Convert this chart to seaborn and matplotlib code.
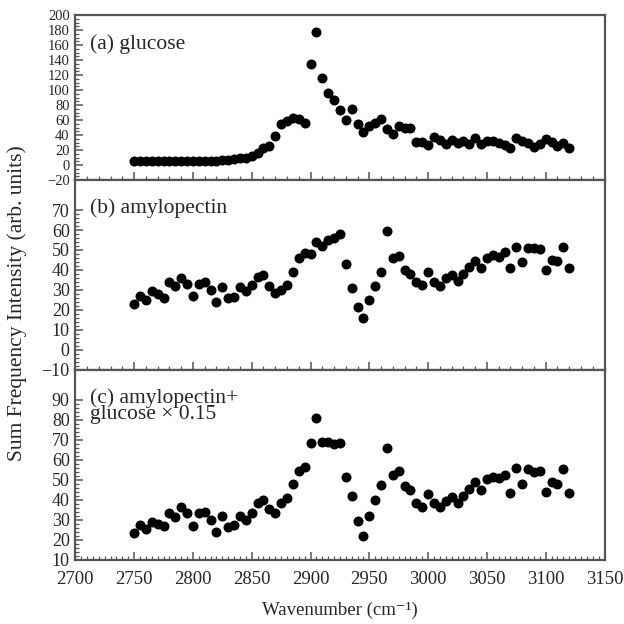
import matplotlib
matplotlib.use("Agg")
import matplotlib.pyplot as plt
from matplotlib.ticker import MultipleLocator, FixedLocator
import numpy as np
import pandas as pd
import seaborn as sns

# wavenumber grid (cm-1)
wavenumber = [2750, 2755, 2760, 2765, 2770, 2775, 2780, 2785, 2790, 2795,
              2800, 2805, 2810, 2815, 2820, 2825, 2830, 2835, 2840, 2845,
              2850, 2855, 2860, 2865, 2870, 2875, 2880, 2885, 2890, 2895,
              2900, 2905, 2910, 2915, 2920, 2925, 2930, 2935, 2940, 2945,
              2950, 2955, 2960, 2965, 2970, 2975, 2980, 2985, 2990, 2995,
              3000, 3005, 3010, 3015, 3020, 3025, 3030, 3035, 3040, 3045,
              3050, 3055, 3060, 3065, 3070, 3075, 3080, 3085, 3090, 3095,
              3100, 3105, 3110, 3115, 3120]

glucose = [5, 5, 6, 5, 5, 5, 5, 5, 5, 5,
           5, 5, 6, 6, 6, 7, 7, 8, 9, 10,
           12, 16, 23, 26, 39, 55, 59, 63, 62, 56,
           135, 178, 116, 96, 87, 73, 60, 75, 55, 44,
           52, 56, 61, 48, 41, 52, 49, 49, 31, 31,
           27, 37, 33, 28, 33, 29, 32, 28, 36, 28,
           32, 32, 29, 27, 23, 36, 32, 29, 24, 28,
           35, 31, 25, 29, 23]

amylopectin = [23, 27, 25, 29.5, 28, 26, 34, 32, 36, 33,
               27, 33, 34, 30, 24, 31.5, 26, 26.5, 31.5, 29.5,
               32.5, 36.5, 37.5, 32, 28.7, 30, 32.5, 39, 46, 48.7,
               48, 54, 52, 55, 56, 58, 43, 31, 21.5, 16,
               25, 32, 39, 59.5, 46, 47, 40, 38, 34, 32.5,
               39, 34, 32, 36, 37.5, 34.5, 38, 41.5, 44.5, 41,
               46, 47.5, 46.5, 49, 41, 51.5, 44, 51, 51, 50.3,
               40, 45, 44.5, 51.5, 41]

mixture = [23.3, 27.5, 25.3, 29, 28, 27, 33.7, 31.7, 36.3, 33.3,
           27, 33.3, 34, 30, 24, 32, 26.7, 27.5, 32, 30,
           33.7, 38.3, 40, 35.3, 33.7, 38.3, 40.8, 47.8, 54.7, 56.7,
           68.3, 80.8, 69, 69, 68, 68.7, 51.3, 42, 29.7, 22,
           32, 40, 47.5, 66, 52.5, 54.5, 47, 45, 38.7, 36.7,
           43, 38.7, 36.7, 39.7, 41.7, 38.7, 42, 45.3, 49, 45,
           50.3, 51.3, 51, 52.5, 43.7, 55.8, 48, 55.3, 54, 54.7,
           44, 49, 48, 55.3, 43.7]

panel_labels = ["(a) glucose", "(b) amylopectin", "(c) amylopectin+\nglucose \u00d7 0.15"]
yticks_a = [-20, 0, 20, 40, 60, 80, 100, 120, 140, 160, 180, 200]
yticks_b = [-10, 0, 10, 20, 30, 40, 50, 60, 70]
yticks_c = [10, 20, 30, 40, 50, 60, 70, 80, 90]

sns.set_style("ticks")
plt.rcParams["font.family"] = ["Liberation Serif", "DejaVu Serif"]
plt.rcParams["axes.unicode_minus"] = True

df = pd.DataFrame({"w": wavenumber, "a": glucose, "b": amylopectin, "c": mixture})

fig = plt.figure(figsize=(6.24, 6.24), dpi=100)
W = 624.0
left, right = 75.3 / W, 604.5 / W
# (top px, bottom px) per panel
boxes = [(15, 180), (180, 370), (370, 560)]
ylims = [(-20, 200), (-10, 85), (10, 105)]
yticks = [yticks_a, yticks_b, yticks_c]
ymin = [5, 2, 2]
xmin_step = [10, 10, 5]
ylab_size = [10.5, 13, 13]
frame = "#555555"

axes = []
for i, col in enumerate(["a", "b", "c"]):
    top, bot = boxes[i]
    ax = fig.add_axes([left, 1 - bot / W, right - left, (bot - top) / W])
    sns.scatterplot(data=df, x="w", y=col, color="black", s=52, linewidth=0,
                    ax=ax, legend=False)
    ax.set_xlim(2700, 3150)
    ax.set_ylim(*ylims[i])
    ax.xaxis.set_major_locator(MultipleLocator(50))
    ax.xaxis.set_minor_locator(MultipleLocator(xmin_step[i]))
    ax.yaxis.set_major_locator(FixedLocator(yticks[i]))
    ax.yaxis.set_minor_locator(FixedLocator(
        [v for v in np.arange(ylims[i][0], yticks[i][-1] + 0.1, ymin[i])]))
    ax.tick_params(which="major", direction="in", length=6, width=1.1,
                   color=frame, labelsize=13.5, pad=4)
    ax.tick_params(which="minor", direction="in", length=3, width=0.9,
                   color=frame)
    ax.tick_params(axis="y", labelsize=ylab_size[i])
    ax.tick_params(axis="x", which="both", top=False)
    ax.tick_params(axis="y", which="both", right=False)
    for sp in ax.spines.values():
        sp.set_color(frame)
        sp.set_linewidth(1.6)
    ax.set_xlabel("")
    ax.set_ylabel("")
    if i < 2:
        ax.tick_params(axis="x", labelbottom=False)
    ax.text(0.028, 0.905 if i else 0.885, panel_labels[i], transform=ax.transAxes,
            ha="left", va="top", fontsize=15.5, linespacing=0.8)
    axes.append(ax)

axes[2].tick_params(axis="x", pad=8)
axes[2].set_xlabel("Wavenumber (cm\u207b\u00b9)", fontsize=13.5, labelpad=10)
fig.text(0.028, 1 - 303 / W, "Sum Frequency Intensity (arb. units)",
         rotation=90, ha="center", va="center", fontsize=15.5)

fig.savefig("out.png", dpi=100)
